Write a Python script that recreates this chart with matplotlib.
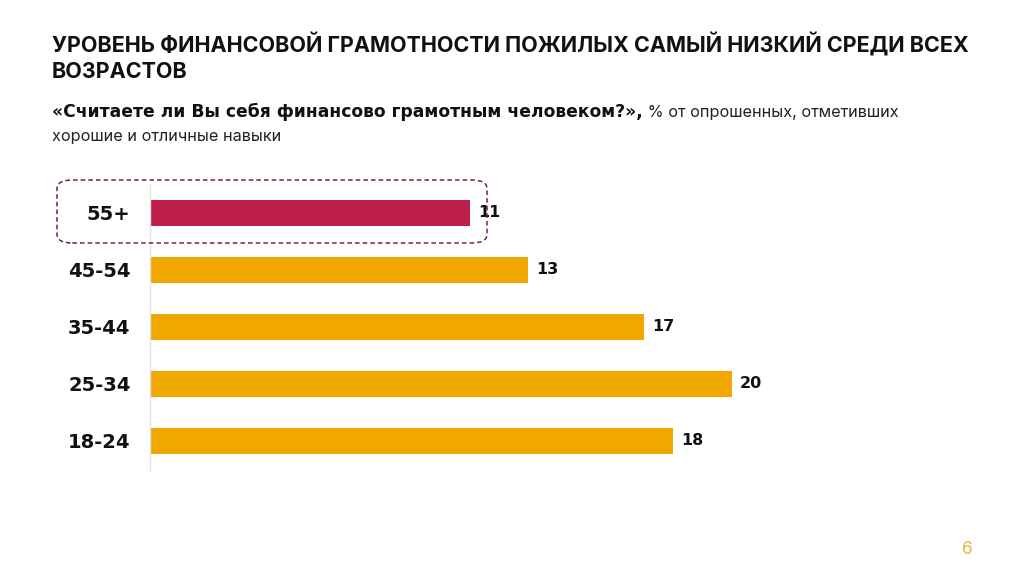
import matplotlib
matplotlib.use("Agg")
import matplotlib.pyplot as plt
from matplotlib.patches import FancyBboxPatch

categories = ["18-24", "25-34", "35-44", "45-54", "55+"]
values = [18, 20, 17, 13, 11]
highlight = "55+"

title = "УРОВЕНЬ ФИНАНСОВОЙ ГРАМОТНОСТИ ПОЖИЛЫХ САМЫЙ НИЗКИЙ СРЕДИ ВСЕХ\nВОЗРАСТОВ"
sub_bold = "«Считаете ли Вы себя финансово грамотным человеком?»,"
sub_reg1 = " % от опрошенных, отметивших"
sub_reg2 = "хорошие и отличные навыки"
page_no = "6"

ORANGE = "#F0A800"
RED = "#BF1F4B"
INTER = ["Inter", "DejaVu Sans"]
WIDE = ["DejaVu Sans"]

plt.rcParams["font.family"] = INTER

W, H = 1024, 576
fig = plt.figure(figsize=(W / 100, H / 100), dpi=100)
fig.patch.set_facecolor("white")

def fx(px):
    return px / W

def fy(py):
    return 1 - py / H

# axes placement (pixels)
left, right, top, bottom = 150, 877, 185, 470
ax = fig.add_axes([fx(left), fy(bottom), fx(right - left), (bottom - top) / H])
ax.set_xlim(0, 25)
ax.set_ylim(-0.51, 4.49)

colors = [RED if c == highlight else ORANGE for c in categories]
ypos = list(range(len(categories)))
ax.barh(ypos, values, height=0.47, color=colors, zorder=2)
for y, v in zip(ypos, values):
    ax.text(v + 0.28, y, str(v), va="center", ha="left", fontsize=11.5,
            fontweight="bold", color="#111111", family=WIDE)

ax.set_yticks(ypos)
ax.set_yticklabels(categories, fontsize=14, fontweight="bold", color="#111111",
                   family=WIDE)
ax.tick_params(axis="y", length=0, pad=14)
ax.set_xticks([])
for s in ["top", "right", "bottom"]:
    ax.spines[s].set_visible(False)
ax.spines["left"].set_color("#e2e2e2")
ax.spines["left"].set_linewidth(1.0)
ax.set_facecolor("none")

# dashed rounded highlight box
x0, y0, x1, y1 = 57, 180, 487, 243
box = FancyBboxPatch((fx(x0), fy(y1)), fx(x1 - x0), (y1 - y0) / H,
                     boxstyle="round,pad=0,rounding_size=0.015",
                     transform=fig.transFigure, fill=False,
                     edgecolor="#6E2445", linestyle=(0, (3, 2)), linewidth=1.1,
                     zorder=5)
fig.patches.append(box)

# title
fig.text(fx(52), fy(33), title, ha="left", va="top", fontsize=15.5,
         fontweight="bold", color="#111111", linespacing=1.3)

# subtitle
tb = fig.text(fx(52), fy(117), sub_bold, ha="left", va="baseline", fontsize=12.3,
              fontweight="bold", color="#111111", family=WIDE)
fig.canvas.draw()
ext = tb.get_window_extent(renderer=fig.canvas.get_renderer())
fig.text(ext.x1 / W, fy(117), sub_reg1, ha="left", va="baseline",
         fontsize=11.7, color="#222222")
fig.text(fx(52), fy(141), sub_reg2, ha="left", va="baseline", fontsize=11.7,
         color="#222222")

fig.text(fx(967), fy(549), page_no, ha="center", va="center", fontsize=12.5,
         color="#E8B44A")

fig.savefig("out.png", dpi=100, facecolor="white")
